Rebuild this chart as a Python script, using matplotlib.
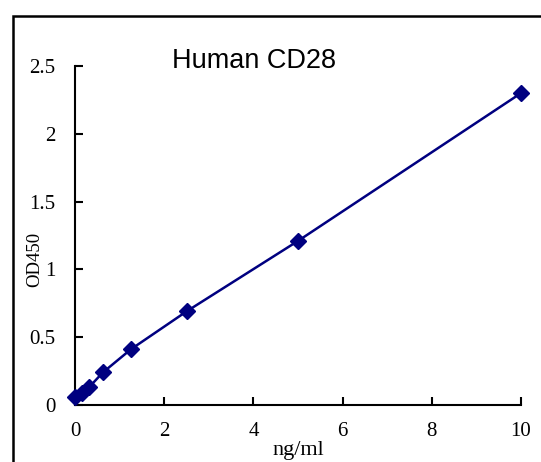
import matplotlib
matplotlib.use("Agg")
import matplotlib.pyplot as plt
from matplotlib.patches import Rectangle

conc = [0, 0.156, 0.3125, 0.625, 1.25, 2.5, 5, 10]
od = [0.06, 0.09, 0.13, 0.24, 0.41, 0.69, 1.21, 2.30]
xticks = [0, 2, 4, 6, 8, 10]
yticks = [0, 0.5, 1, 1.5, 2, 2.5]
ytick_labels = ["0", "0.5", "1", "1.5", "2", "2.5"]

W, H = 541, 462
fig = plt.figure(figsize=(W / 100, H / 100), dpi=100)
fig.patch.set_facecolor("white")

# outer frame
fig.patches.append(Rectangle((13 / W, -0.1), 1.2, 1 - 16 / H + 0.1, transform=fig.transFigure,
                             fill=False, edgecolor="black", linewidth=1.8))

ax = fig.add_axes([75 / W, 1 - 405 / H, (521 - 75) / W, (405 - 66) / H])
ax.plot(conc, od, color="#000080", linewidth=1.8, marker="D", markersize=8.5,
        markerfacecolor="#000080", markeredgecolor="#000080", clip_on=False, zorder=3)
ax.set_xlim(0, 10)
ax.set_ylim(0, 2.5)
ax.set_xticks(xticks)
ax.set_yticks(yticks)
ax.set_yticklabels(ytick_labels)
for s in ["top", "right"]:
    ax.spines[s].set_visible(False)
for s in ["left", "bottom"]:
    ax.spines[s].set_linewidth(1.5)
ax.tick_params(direction="in", length=6, width=1.5)
ax.tick_params(axis="x", pad=12)
ax.tick_params(axis="y", pad=14)
for lab in ax.get_xticklabels() + ax.get_yticklabels():
    lab.set_fontfamily("Liberation Serif")
    lab.set_fontsize(15)

fig.text(298 / W, 1 - 450 / H, "ng/ml", ha="center", va="center",
         fontfamily="Liberation Serif", fontsize=16)
fig.text(35 / W, 1 - 259 / H, "OD450", ha="center", va="center", rotation=90,
         fontfamily="Liberation Serif", fontsize=13.5)
fig.text(254 / W, 1 - 61 / H, "Human CD28", ha="center", va="center",
         fontfamily="Liberation Sans", fontsize=19.5)

fig.savefig("out.png", dpi=100)
